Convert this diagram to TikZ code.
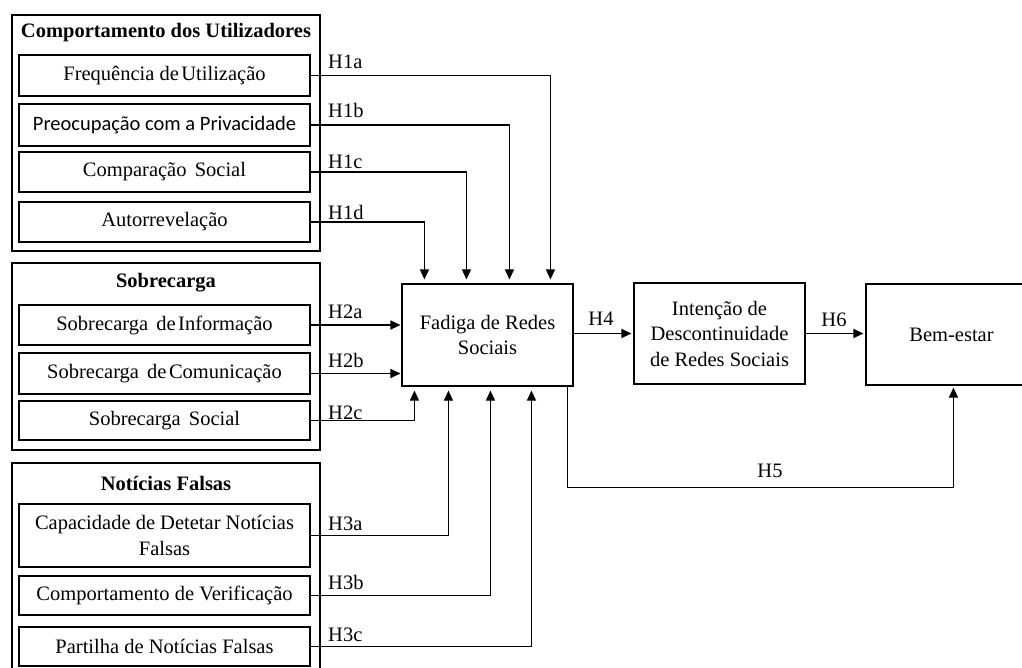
\documentclass[tikz,border=0pt]{standalone}
\usepackage{fontspec}
\setmainfont{Liberation Serif}
\newfontfamily\calfont{Carlito}
\usetikzlibrary{arrows.meta}
\newcommand{\mysz}{\fontsize{20.5}{25.5}\selectfont}
\newcommand{\wsp}{\hspace{0.4em}}
\newcommand{\tsp}{\hspace{0.12em}}
\tikzset{
  grp/.style={draw, line width=1.1pt, inner sep=0pt, minimum width=308pt},
  item/.style={draw, line width=1.1pt, inner sep=0pt, minimum width=291pt, align=center, font=\mysz},
  bigbox/.style={draw, line width=1.1pt, inner sep=0pt, minimum width=171pt, align=center, font=\mysz},
  ttl/.style={inner sep=0pt, font=\mysz\bfseries},
  lab/.style={inner sep=0pt, font=\mysz},
  arr/.style={line width=1.1pt, -{Triangle[length=10pt,width=9pt]}},
  conn/.style={line width=1.1pt}
}
\begin{document}
\begin{tikzpicture}[x=1pt,y=-1pt]
\useasboundingbox (0,0) rectangle (1022,668);
\clip (0,0) rectangle (1022,668);

% group 1
\node[grp, minimum height=236pt] (g1) at (166,133) {};
\node[ttl] (t1) at (166,33) {Comportamento dos Utilizadores};
\node[item, minimum height=41pt] (f1) at (164.5,75.5) {Frequência de\tsp Utilização};
\node[item, minimum height=42pt] (f2) at (164.5,125) {\calfont Preocupação com a Privacidade};
\node[item, minimum height=40pt] (f3) at (164.5,172) {Comparação\wsp Social};
\node[item, minimum height=40pt] (f4) at (164.5,222) {Autorrevelação};

% group 2
\node[grp, minimum height=187pt] (g2) at (166,356.5) {};
\node[ttl] (t2) at (166,283) {Sobrecarga};
\node[item, minimum height=40pt] (s1) at (164.5,325) {Sobrecarga\wsp de\tsp Informação};
\node[item, minimum height=41pt] (s2) at (164.5,373.5) {Sobrecarga\wsp de\tsp Comunicação};
\node[item, minimum height=39pt] (s3) at (164.5,420.5) {Sobrecarga\wsp Social};

% group 3
\node[grp, minimum height=220pt] (g3) at (166,573) {};
\node[ttl] (t3) at (166,483) {Notícias Falsas};
\node[item, minimum height=63pt] (n1) at (164.5,535.5) {Capacidade de Detetar Notícias\\Falsas};
\node[item, minimum height=39pt] (n2) at (164.5,595.5) {Comportamento de Verificação};
\node[item, minimum height=39pt] (n3) at (164.5,646.5) {Partilha de Notícias Falsas};

% main boxes
\node[bigbox, minimum height=102pt] (F) at (487.5,335) {Fadiga de Redes\\Sociais};
\node[bigbox, minimum height=101pt] (I) at (719.5,333.5) {Intenção de\\Descontinuidade\\de Redes Sociais};
\node[bigbox, minimum height=101pt] (B) at (951.5,334.5) {Bem-estar};

% H1 connectors
\draw[arr, shorten >=4pt] (f1.east) -| ([xshift=149pt]F.north west);
\draw[arr, shorten >=4pt] (f2.east) -| ([xshift=108pt]F.north west);
\draw[arr, shorten >=4pt] (f3.east) -| ([xshift=65pt]F.north west);
\draw[arr, shorten >=4pt] (f4.east) -| ([xshift=23pt]F.north west);

% H2 connectors
\draw[arr, shorten >=1pt] (s1.east) -- (s1.east -| F.west);
\draw[arr, shorten >=1pt] (s2.east) -- (s2.east -| F.west);
\draw[arr, shorten >=4pt] (s3.east) -| ([xshift=13pt]F.south west);

% H3 connectors
\draw[arr, shorten >=4pt] (n1.east) -| ([xshift=47pt]F.south west);
\draw[arr, shorten >=4pt] (n2.east) -| ([xshift=89pt]F.south west);
\draw[arr, shorten >=4pt] (n3.east) -| ([xshift=130pt]F.south west);

% H4, H6, H5
\draw[arr, shorten >=2pt] (I.west -| F.east) -- (I.west);
\draw[arr, shorten >=2pt] (I.east) -- (I.east -| B.west);
\draw[arr, shorten >=2pt] ([xshift=-6pt]F.south east) -- ++(0,101) -| ([xshift=88pt]B.south west);

% labels
\node[lab, anchor=west] (l1a) at (328,62) {H1a};
\node[lab, anchor=west] (l1b) at (328,110) {H1b};
\node[lab, anchor=west] (l1c) at (328,162) {H1c};
\node[lab, anchor=west] (l1d) at (328,212) {H1d};
\node[lab, anchor=west] (l2a) at (328,312) {H2a};
\node[lab, anchor=west] (l2b) at (328,360) {H2b};
\node[lab, anchor=west] (l2c) at (328,413) {H2c};
\node[lab, anchor=west] (l3a) at (328,524) {H3a};
\node[lab, anchor=west] (l3b) at (328,582) {H3b};
\node[lab, anchor=west] (l3c) at (328,635) {H3c};
\node[lab] (l4) at (601,319) {H4};
\node[lab] (l6) at (834,320) {H6};
\node[lab] (l5) at (770,471) {H5};
\end{tikzpicture}
\end{document}
